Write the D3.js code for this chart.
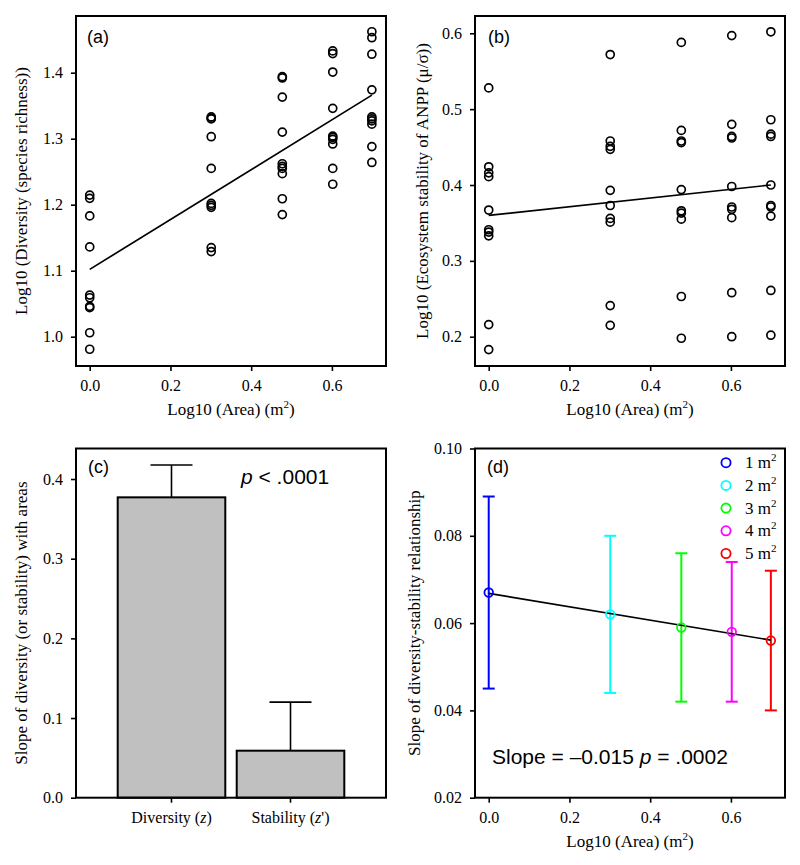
<!DOCTYPE html>
<html><head><meta charset="utf-8">
<script src="https://cdn.jsdelivr.net/npm/d3@7"></script>
<style>body{margin:0;background:#fff}</style>
</head><body><svg id="c" width="800" height="865"></svg>
<script>
// ---------- data ----------
const areaLog = [0, 0.30103, 0.47712, 0.60206, 0.69897];
const diversity = [
  [1.2146,1.2096,1.183,1.136,1.063,1.059,1.046,1.044,1.006,0.981],
  [1.333,1.331,1.330,1.303,1.255,1.202,1.199,1.196,1.135,1.129],
  [1.394,1.392,1.363,1.310,1.262,1.258,1.255,1.247,1.209,1.185],
  [1.433,1.429,1.401,1.346,1.304,1.302,1.299,1.292,1.255,1.231],
  [1.462,1.453,1.428,1.374,1.333,1.330,1.327,1.322,1.288,1.264]
];
const stability = [
  [0.528,0.424,0.416,0.411,0.367,0.341,0.338,0.333,0.216,0.183],
  [0.572,0.458,0.451,0.447,0.393,0.373,0.356,0.351,0.241,0.215],
  [0.588,0.472,0.458,0.456,0.394,0.366,0.363,0.355,0.253,0.198],
  [0.597,0.480,0.464,0.462,0.398,0.371,0.368,0.357,0.258,0.200],
  [0.602,0.486,0.467,0.464,0.400,0.373,0.371,0.359,0.261,0.202]
];
const fitX = [0, 0.69897];
const fitDiversity = [1.102, 1.366];
const fitStability = [0.360, 0.400];
const slopeCats = ["Diversity", "Stability"];
const slopeLabelPre = ["Diversity (", "Stability ("];
const slopeLabelPost = [")", "')"];
const slopeValues = [0.377, 0.059];
const slopeUpper = [0.4175, 0.120];
const dsSlope = [0.067, 0.062, 0.059, 0.058, 0.056];
const dsLow = [0.045, 0.044, 0.042, 0.042, 0.040];
const dsHigh = [0.089, 0.080, 0.076, 0.074, 0.072];
const fitDS = [0.0668, 0.0561];
const areaNames = ["1", "2", "3", "4", "5"];
const areaColors = ["#0000ff", "#00ffff", "#00ff00", "#ff00ff", "#ff0000"];
const xTicks = [0, 0.2, 0.4, 0.6];
const yTicksA = [1.0, 1.1, 1.2, 1.3, 1.4];
const yTicksB = [0.2, 0.3, 0.4, 0.5, 0.6];
const yTicksC = [0.0, 0.1, 0.2, 0.3, 0.4];
const yTicksD = [0.02, 0.04, 0.06, 0.08, 0.10];

// ---------- layout ----------
const SERIF = "'Liberation Serif','Times New Roman',serif";
const SANS = "'Liberation Sans',Arial,sans-serif";
const svg = d3.select("#c");
const L1 = 76, L2 = 475, PW = 310;
const T1 = 16, B1 = 366, T2 = 448.5, B2 = 797.7;
const xDom = [-0.034, 0.734];

function axes(g, xs, ys, yVals, yFmt, xVals, left, top, right, bottom, bandX) {
  const ya = d3.axisLeft(ys).tickValues(yVals).tickFormat(d3.format(yFmt)).tickSize(5).tickPadding(8).tickSizeOuter(0);
  const gy = g.append("g").attr("transform", `translate(${left},0)`).call(ya);
  let xa;
  if (bandX) xa = d3.axisBottom(xs).tickSize(5).tickPadding(9).tickSizeOuter(0);
  else xa = d3.axisBottom(xs).tickValues(xVals).tickFormat(d3.format(".1f")).tickSize(5).tickPadding(9).tickSizeOuter(0);
  const gx = g.append("g").attr("transform", `translate(0,${bottom})`).call(xa);
  [gx, gy].forEach(a => {
    a.select(".domain").remove();
    a.selectAll(".tick line").attr("stroke", "#000").attr("stroke-width", 1.6);
    a.selectAll(".tick text").attr("fill", "#000").style("font-family", SERIF).style("font-size", "16px");
  });
  return gx;
}
function frame(g, left, top, right, bottom) {
  g.append("rect").attr("x", left).attr("y", top).attr("width", right - left).attr("height", bottom - top)
    .attr("fill", "none").attr("stroke", "#000").attr("stroke-width", 2);
}
function xTitle(g, cx, y) {
  const t = g.append("text").attr("x", cx).attr("y", y).attr("text-anchor", "middle")
    .style("font-family", SERIF).style("font-size", "17px").attr("fill", "#000");
  t.append("tspan").text("Log10 (Area) (m");
  t.append("tspan").attr("dy", -7).style("font-size", "11px").text("2");
  t.append("tspan").attr("dy", 7).text(")");
}
function yTitle(g, x, cy, txt) {
  g.append("text").attr("transform", `translate(${x},${cy}) rotate(-90)`).attr("text-anchor", "middle")
    .style("font-family", SERIF).style("font-size", "17px").attr("fill", "#000").text(txt);
}
function tag(g, x, y, txt) {
  g.append("text").attr("x", x).attr("y", y).style("font-family", SANS).style("font-size", "18px").attr("fill", "#000").text(txt);
}

// ---------- panel (a) ----------
{
  const g = svg.append("g");
  const xs = d3.scaleLinear().domain(xDom).range([L1, L1 + PW]);
  const ys = d3.scaleLinear().domain([0.9556, 1.4859]).range([B1, T1]);
  axes(g, xs, ys, yTicksA, ".1f", xTicks, L1, T1, L1 + PW, B1);
  const pts = diversity.flatMap((col, i) => col.map(v => [areaLog[i], v]));
  g.append("g").selectAll("circle").data(pts).join("circle")
    .attr("cx", d => xs(d[0])).attr("cy", d => ys(d[1])).attr("r", 4)
    .attr("fill", "none").attr("stroke", "#000").attr("stroke-width", 1.7);
  g.append("path").datum(fitX.map((x, i) => [x, fitDiversity[i]]))
    .attr("d", d3.line().x(d => xs(d[0])).y(d => ys(d[1]))).attr("stroke", "#000").attr("stroke-width", 1.7).attr("fill", "none");
  frame(g, L1, T1, L1 + PW, B1);
  tag(g, 87, 43, "(a)");
  xTitle(g, L1 + PW / 2, 415);
  yTitle(g, 27, (T1 + B1) / 2, "Log10 (Diversity (species richness))");
}

// ---------- panel (b) ----------
{
  const g = svg.append("g");
  const xs = d3.scaleLinear().domain(xDom).range([L2, L2 + PW]);
  const ys = d3.scaleLinear().domain([0.1614, 0.6228]).range([B1, T1]);
  axes(g, xs, ys, yTicksB, ".1f", xTicks, L2, T1, L2 + PW, B1);
  const pts = stability.flatMap((col, i) => col.map(v => [areaLog[i], v]));
  g.append("g").selectAll("circle").data(pts).join("circle")
    .attr("cx", d => xs(d[0])).attr("cy", d => ys(d[1])).attr("r", 4)
    .attr("fill", "none").attr("stroke", "#000").attr("stroke-width", 1.7);
  g.append("path").datum(fitX.map((x, i) => [x, fitStability[i]]))
    .attr("d", d3.line().x(d => xs(d[0])).y(d => ys(d[1]))).attr("stroke", "#000").attr("stroke-width", 1.7).attr("fill", "none");
  frame(g, L2, T1, L2 + PW, B1);
  tag(g, 488, 43, "(b)");
  xTitle(g, L2 + PW / 2, 415);
  yTitle(g, 428, (T1 + B1) / 2, "Log10 (Ecosystem stability of ANPP (\u03bc/\u03c3))");
}

// ---------- panel (c) ----------
{
  const g = svg.append("g");
  const xs = d3.scaleBand().domain(slopeCats).range([117.7 - 6, 344.3 + 6]).paddingInner(0.096 + 0.05).paddingOuter(0.05);
  const xb = d3.scaleBand().domain(slopeCats).range([117.7, 344.3]).paddingInner(0.096);
  const ys = d3.scaleLinear().domain([0, 0.4383]).range([B2, T2]);
  const gx = axes(g, xb, ys, yTicksC, ".1f", null, L1, T2, L1 + PW, B2, true);
  gx.selectAll(".tick text").each(function (d, i) {
    const t = d3.select(this); t.text(null);
    t.append("tspan").text(slopeLabelPre[i]);
    t.append("tspan").style("font-style", "italic").text("z");
    t.append("tspan").text(slopeLabelPost[i]);
  });
  const cw = 21;
  slopeCats.forEach((c, i) => {
    const cx = xb(c) + xb.bandwidth() / 2;
    g.append("line").attr("x1", cx).attr("x2", cx).attr("y1", ys(slopeValues[i])).attr("y2", ys(slopeUpper[i]))
      .attr("stroke", "#000").attr("stroke-width", 1.6);
    g.append("line").attr("x1", cx - cw).attr("x2", cx + cw).attr("y1", ys(slopeUpper[i])).attr("y2", ys(slopeUpper[i]))
      .attr("stroke", "#000").attr("stroke-width", 1.6);
  });
  g.append("g").selectAll("rect").data(slopeCats).join("rect")
    .attr("x", d => xb(d)).attr("width", xb.bandwidth())
    .attr("y", (d, i) => ys(slopeValues[i])).attr("height", (d, i) => B2 - ys(slopeValues[i]))
    .attr("fill", "#c0c0c0").attr("stroke", "#000").attr("stroke-width", 2);
  frame(g, L1, T2, L1 + PW, B2);
  tag(g, 88, 473, "(c)");
  const p = g.append("text").attr("x", 241).attr("y", 484).style("font-family", SANS).style("font-size", "21px").attr("fill", "#000");
  p.append("tspan").style("font-style", "italic").text("p");
  p.append("tspan").text(" < .0001");
  yTitle(g, 27, (T2 + B2) / 2, "Slope of diversity (or stability) with areas");
}

// ---------- panel (d) ----------
{
  const g = svg.append("g");
  const xs = d3.scaleLinear().domain(xDom).range([L2, L2 + PW]);
  const ys = d3.scaleLinear().domain([0.02, 0.10]).range([B2, T2]);
  axes(g, xs, ys, yTicksD, ".2f", xTicks, L2, T2, L2 + PW, B2);
  const cap = 6;
  areaLog.forEach((x, i) => {
    const cx = xs(x);
    g.append("line").attr("x1", cx).attr("x2", cx).attr("y1", ys(dsLow[i])).attr("y2", ys(dsHigh[i]))
      .attr("stroke", areaColors[i]).attr("stroke-width", 2);
    [dsLow[i], dsHigh[i]].forEach(v => g.append("line").attr("x1", cx - cap).attr("x2", cx + cap)
      .attr("y1", ys(v)).attr("y2", ys(v)).attr("stroke", areaColors[i]).attr("stroke-width", 2));
  });
  g.append("path").datum(fitX.map((x, i) => [x, fitDS[i]]))
    .attr("d", d3.line().x(d => xs(d[0])).y(d => ys(d[1]))).attr("stroke", "#000").attr("stroke-width", 1.7).attr("fill", "none");
  g.append("g").selectAll("circle").data(areaLog).join("circle")
    .attr("cx", d => xs(d)).attr("cy", (d, i) => ys(dsSlope[i])).attr("r", 4.3)
    .attr("fill", "none").attr("stroke", (d, i) => areaColors[i]).attr("stroke-width", 1.8);
  frame(g, L2, T2, L2 + PW, B2);
  tag(g, 487, 473, "(d)");
  // legend
  const lg = g.append("g");
  areaNames.forEach((n, i) => {
    const y = 462.7 + i * 22.7;
    lg.append("circle").attr("cx", 726).attr("cy", y).attr("r", 4.6).attr("fill", "none")
      .attr("stroke", areaColors[i]).attr("stroke-width", 1.8);
    const t = lg.append("text").attr("x", 745).attr("y", y + 5.5).style("font-family", SERIF).style("font-size", "17px").attr("fill", "#000");
    t.append("tspan").text(n + " m");
    t.append("tspan").attr("dy", -7).style("font-size", "11px").text("2");
  });
  const s = g.append("text").attr("x", 492).attr("y", 764).style("font-family", SANS).style("font-size", "21px").attr("fill", "#000");
  s.append("tspan").text("Slope = \u20130.015 ");
  s.append("tspan").style("font-style", "italic").text("p");
  s.append("tspan").text(" = .0002");
  xTitle(g, L2 + PW / 2, 847);
  yTitle(g, 420, (T2 + B2) / 2, "Slope of diversity-stability relationship");
}
</script></body></html>
